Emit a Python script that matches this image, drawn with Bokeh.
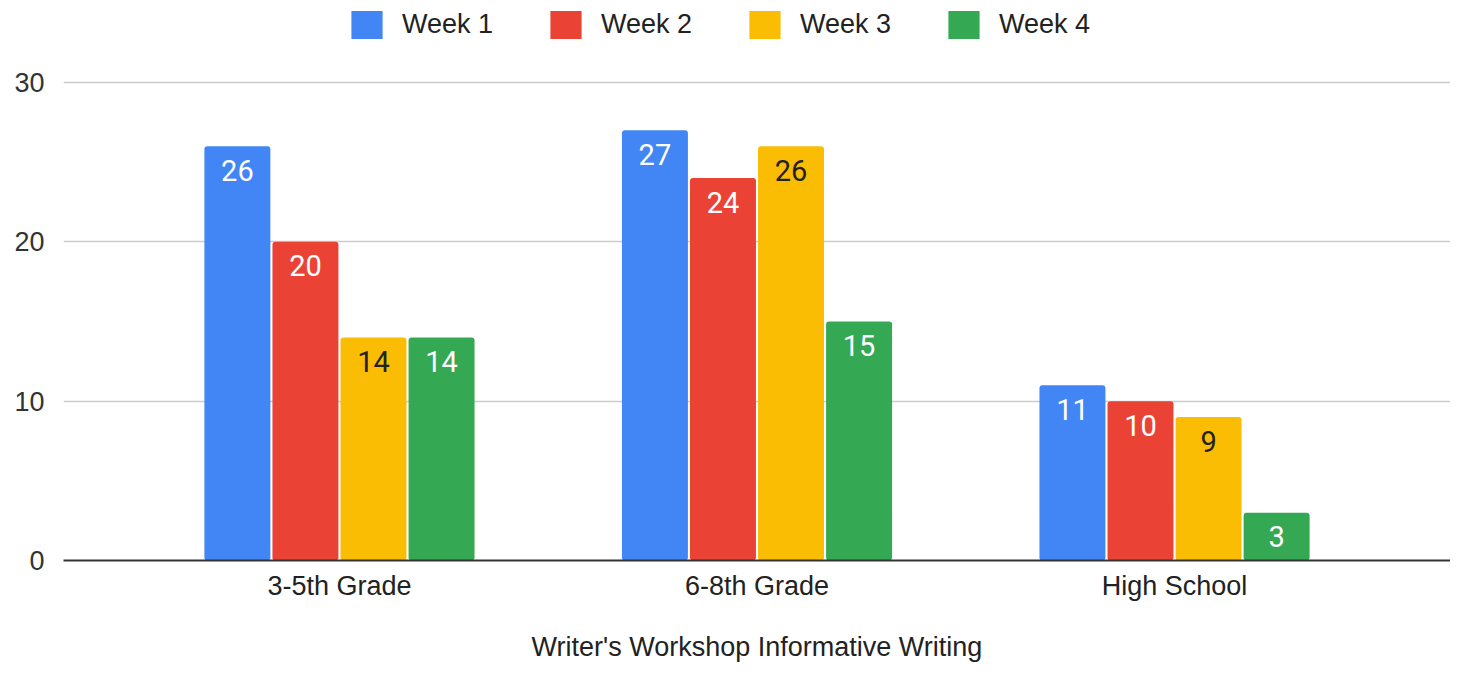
from bokeh.plotting import figure
from bokeh.models import (ColumnDataSource, FactorRange, Range1d, FixedTicker,
                          Legend, LegendItem)
from bokeh.transform import dodge
from bokeh.core.properties import value
from bokeh.embed import file_html
from bokeh.resources import INLINE

categories = ["3-5th Grade", "6-8th Grade", "High School"]
series_names = ["Week 1", "Week 2", "Week 3", "Week 4"]
week1 = [26, 27, 11]
week2 = [20, 24, 10]
week3 = [14, 26, 9]
week4 = [14, 15, 3]
y_ticks = [0, 10, 20, 30]
x_title = "Writer's Workshop Informative Writing"

colors = ["#4285F4", "#EA4335", "#FBBC04", "#34A853"]
label_colors = ["#FFFFFF", "#FFFFFF", "#222222", "#FFFFFF"]
offsets = [-0.2445, -0.0815, 0.0815, 0.2445]

data = {"cat": categories}
series = [week1, week2, week3, week4]
for i, s in enumerate(series):
    data[f"w{i}"] = s
    data[f"l{i}"] = [str(v) for v in s]
src = ColumnDataSource(data)

W, H = 1450, 666
frame_bottom, frame_left = 560, 63
px_per_unit = (frame_bottom - 82) / 30.0
y_end = frame_bottom / px_per_unit

p = figure(width=W, height=H, output_backend="svg", toolbar_location=None,
           x_range=FactorRange(factors=categories, range_padding=0.1073,
                               range_padding_units="percent"),
           y_range=Range1d(0, y_end), tools="")
p.min_border_left = frame_left
p.min_border_right = 0
p.min_border_top = 0
p.min_border_bottom = H - frame_bottom
p.outline_line_color = None
p.background_fill_color = "white"
p.border_fill_color = "white"

items = []
for i, name in enumerate(series_names):
    r = p.vbar(x=dodge("cat", offsets[i], range=p.x_range), top=f"w{i}",
               width=0.158, source=src, fill_color=colors[i], line_color=None,
               border_radius=3)
    items.append(LegendItem(label=name, renderers=[r]))
    p.text(x=dodge("cat", offsets[i], range=p.x_range), y=f"w{i}", text=f"l{i}",
           source=src, text_align="center", text_baseline="middle",
           y_offset=24, text_color=label_colors[i], text_font=value("Roboto"),
           text_font_size="29px")

legend = Legend(items=items, location=(284, frame_bottom - 42), orientation="horizontal",
                glyph_width=39, glyph_height=35, label_standoff=16,
                label_width=144, spacing=0, padding=0, margin=0,
                label_text_font="Liberation Sans", label_text_font_size="27px",
                label_text_color="#222222", border_line_color=None,
                background_fill_alpha=0)
p.add_layout(legend, "center")

# y axis
p.yaxis.ticker = FixedTicker(ticks=y_ticks)
p.yaxis.axis_line_color = None
p.yaxis.major_tick_line_color = None
p.yaxis.minor_tick_line_color = None
p.yaxis.major_label_standoff = 13
p.yaxis.major_label_text_font = "Liberation Sans"
p.yaxis.major_label_text_font_size = "27px"
p.yaxis.major_label_text_color = "#333333"

p.ygrid.ticker = FixedTicker(ticks=[10, 20, 30])
p.ygrid.grid_line_color = "#CCCCCC"
p.ygrid.grid_line_width = 1.5
p.xgrid.grid_line_color = None

# x axis
p.xaxis.axis_line_color = "#333333"
p.xaxis.axis_line_width = 2
p.xaxis.major_tick_line_color = None
p.xaxis.minor_tick_line_color = None
p.xaxis.major_label_standoff = 4
p.xaxis.major_label_text_font = "Liberation Sans"
p.xaxis.major_label_text_font_size = "27px"
p.xaxis.major_label_text_color = "#222222"
p.xaxis.axis_label = x_title
p.xaxis.axis_label_standoff = 28
p.xaxis.axis_label_text_font = "Liberation Sans"
p.xaxis.axis_label_text_font_size = "27px"
p.xaxis.axis_label_text_font_style = "normal"
p.xaxis.axis_label_text_color = "#222222"

open("out.html", "w").write(file_html(p, INLINE))
